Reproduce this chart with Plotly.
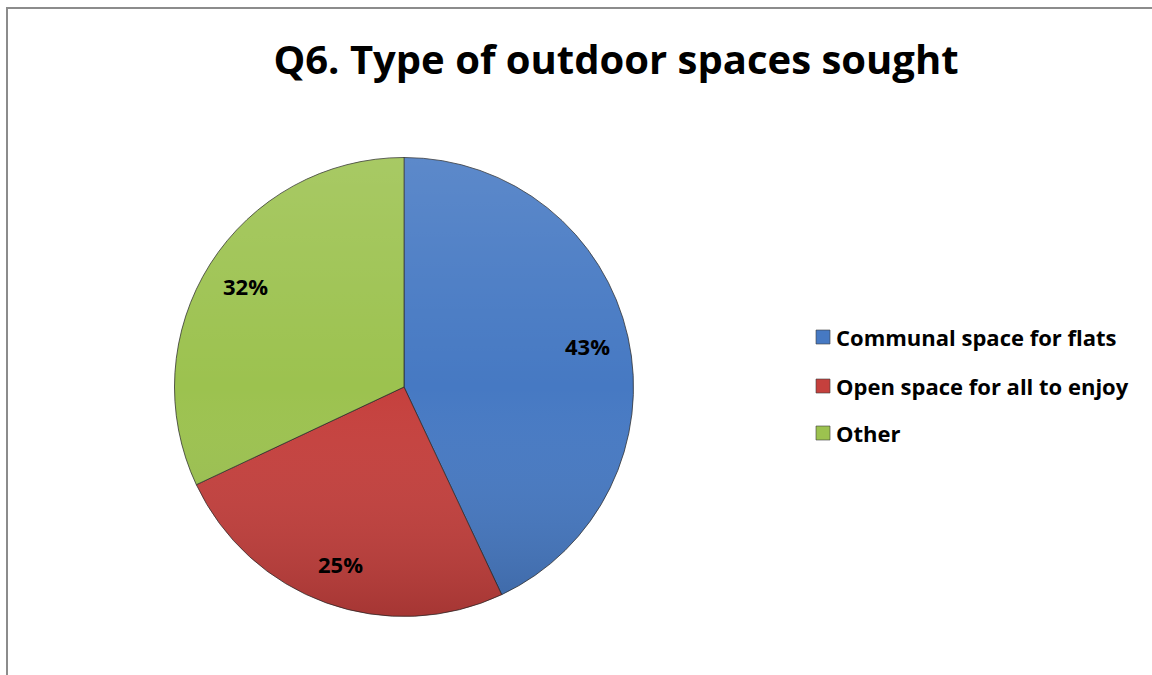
import math
import base64
import plotly.graph_objects as go

# Survey answers for Q6
categories = ["Communal space for flats", "Open space for all to enjoy", "Other"]
shares = [43, 25, 32]
slice_colors = ["#4679C3", "#C5403D", "#9CC24F"]
title_text = "Q6. Type of outdoor spaces sought"

FONT = "Open Sans"
W, H = 1152, 675

# Pie placement (pixels)
CX, CY, R = 404, 387, 229.5
LABEL_R = 0.82

fig = go.Figure()
fig.add_trace(go.Pie(
    labels=categories,
    values=shares,
    sort=False,
    direction="clockwise",
    rotation=0,
    marker=dict(colors=slice_colors, line=dict(color="rgba(40,40,40,0.75)", width=1)),
    textinfo="none",
    domain=dict(x=[(CX - R) / W, (CX + R) / W],
                y=[1 - (CY + R) / H, 1 - (CY - R) / H]),
    showlegend=False,
    hoverinfo="label+percent",
))

# Soft top-to-bottom shading over the pie
shade_svg = (
    '<svg xmlns="http://www.w3.org/2000/svg" width="200" height="200">'
    '<defs><linearGradient id="g" x1="0" y1="0" x2="0" y2="1">'
    '<stop offset="0" stop-color="white" stop-opacity="0.12"/>'
    '<stop offset="0.5" stop-color="white" stop-opacity="0"/>'
    '<stop offset="1" stop-color="black" stop-opacity="0.16"/>'
    '</linearGradient></defs>'
    '<circle cx="100" cy="100" r="100" fill="url(#g)"/></svg>'
)
fig.add_layout_image(
    source="data:image/svg+xml;base64," + base64.b64encode(shade_svg.encode()).decode(),
    xref="paper", yref="paper",
    x=(CX - R) / W, y=1 - (CY - R) / H,
    sizex=2 * R / W, sizey=2 * R / H,
    xanchor="left", yanchor="top", sizing="stretch", layer="above",
)

# Percentage labels placed along each slice's bisector
total = sum(shares)
start_deg = 0.0
for v in shares:
    sweep = v / total * 360.0
    ang = math.radians(start_deg + sweep / 2)  # clockwise from 12 o'clock
    px = CX + LABEL_R * R * math.sin(ang)
    py = CY - LABEL_R * R * math.cos(ang)
    fig.add_annotation(xref="paper", yref="paper", x=px / W, y=1 - py / H,
                       xanchor="center", yanchor="middle", showarrow=False,
                       text=f"{round(v / total * 100)}%",
                       font=dict(family=FONT, size=22, color="black", weight="bold"))
    start_deg += sweep

# Legend drawn as swatches plus labels
legend_x = 816
legend_y = [337, 386, 433]
for name, col, yy in zip(categories, slice_colors, legend_y):
    fig.add_shape(type="rect", xref="paper", yref="paper",
                  x0=legend_x / W, x1=(legend_x + 14) / W,
                  y0=1 - (yy + 7) / H, y1=1 - (yy - 7) / H,
                  fillcolor=col, line=dict(color="rgba(60,60,60,0.6)", width=1))
    fig.add_annotation(xref="paper", yref="paper", x=(legend_x + 18) / W, y=1 - yy / H,
                       xanchor="left", yanchor="middle", showarrow=False,
                       text=name, font=dict(family=FONT, size=22, color="black", weight="bold"))

# Chart area frame
fig.add_shape(type="rect", xref="paper", yref="paper",
              x0=7 / W, x1=1.02, y0=-0.02, y1=1 - 8 / H,
              line=dict(color="#8c8c8c", width=2), fillcolor="rgba(0,0,0,0)", layer="below")

fig.update_layout(
    width=W, height=H,
    margin=dict(l=0, r=0, t=0, b=0),
    paper_bgcolor="white",
    plot_bgcolor="white",
    title=dict(text=title_text, x=616 / W, xanchor="center", y=1 - 60 / H, yanchor="middle",
               yref="container", font=dict(family=FONT, size=40, color="black", weight="bold")),
)

fig.write_html("out.html")
